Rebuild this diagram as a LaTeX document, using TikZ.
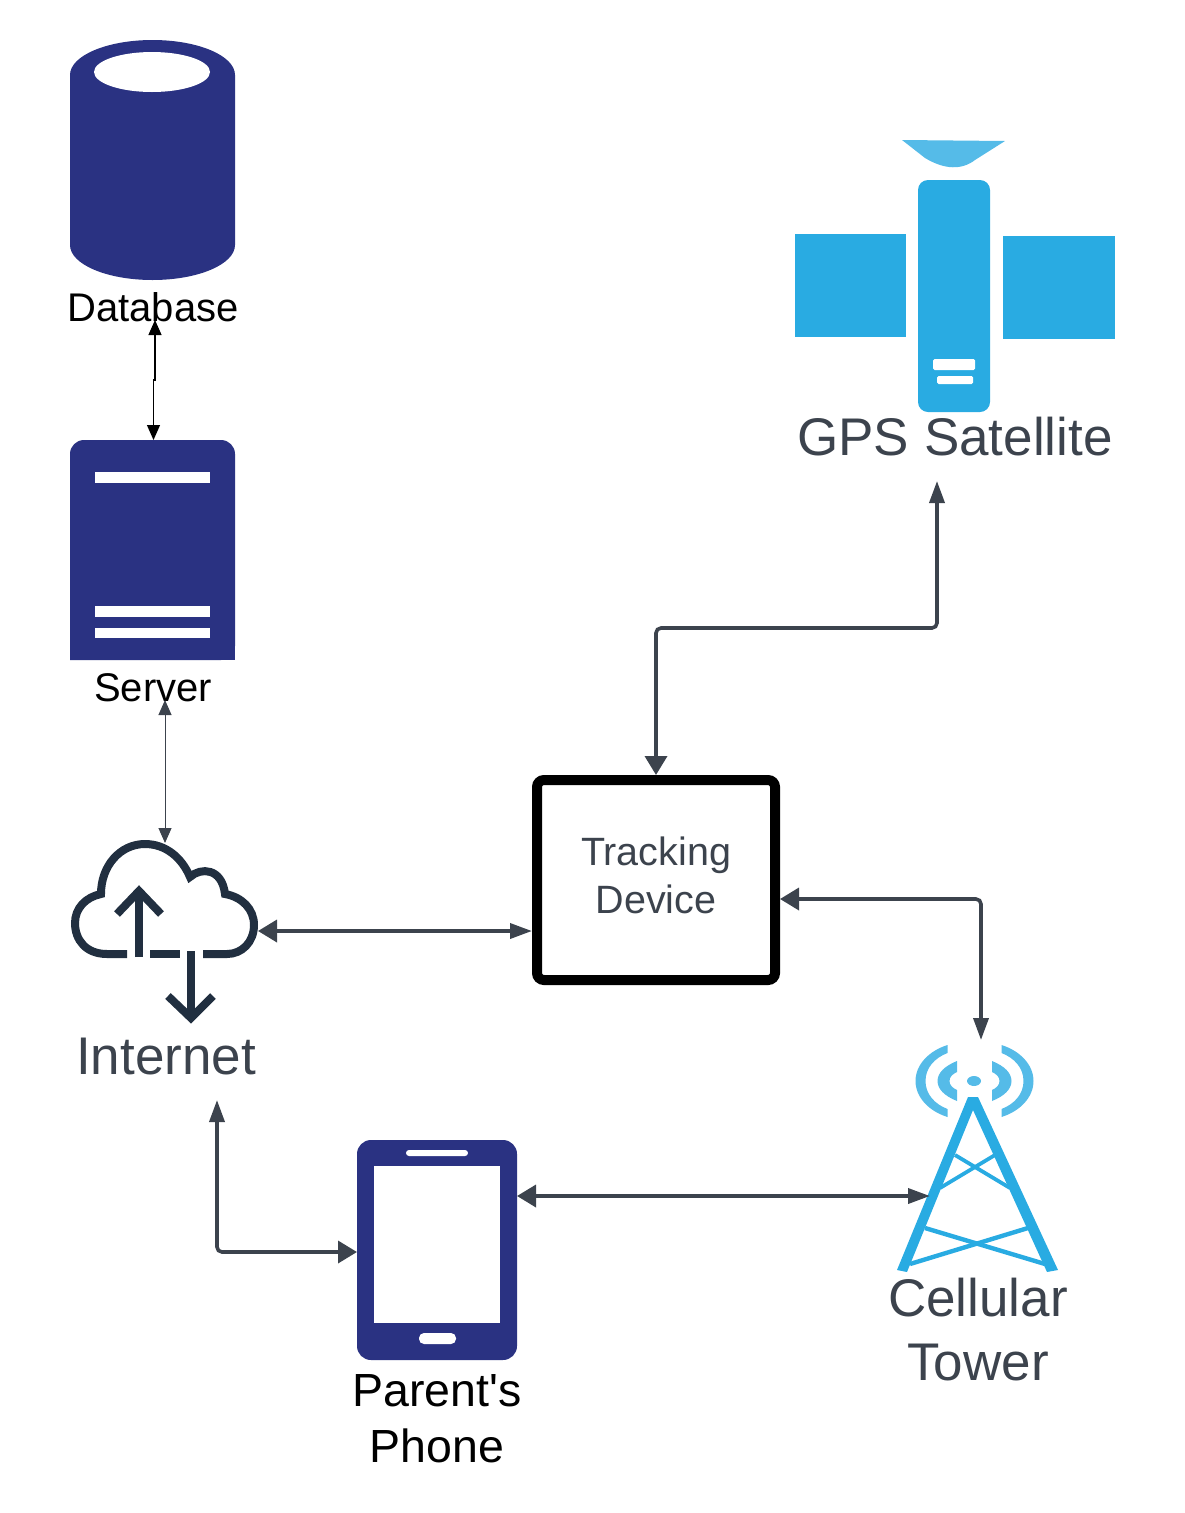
\documentclass[tikz,border=0pt]{standalone}
\usepackage{fontspec}
\setmainfont{Liberation Sans}
\newfontfamily\plainfont{Liberation Sans}
\usetikzlibrary{arrows.meta}
\definecolor{navy}{HTML}{2A3282}
\definecolor{skyblue}{HTML}{29ABE2}
\definecolor{paleblue}{HTML}{55BBE8}
\definecolor{cloudink}{HTML}{212F40}
\definecolor{slate}{HTML}{3C434D}
\tikzset{
  widehead/.tip = {Triangle[length = 19pt, width = 22pt]},
  slimhead/.tip = {Triangle[length = 22pt, width = 15pt]},
  smallhead/.tip = {Triangle[length = 15pt, width = 13pt]},
  blacklabel/.style = {text = black, inner sep = 0pt, font = \fontsize{40}{46}\selectfont},
  biglabel/.style = {text = slate, inner sep = 0pt, align = center},
  link/.style = {widehead-slimhead, draw = slate, line width = 3.6pt, rounded corners = 5pt},
  revlink/.style = {slimhead-widehead, draw = slate, line width = 3.6pt, rounded corners = 5pt},
  thinlink/.style = {smallhead-smallhead, draw = slate, line width = 1pt},
  dblink/.style = {smallhead-smallhead, draw = black, line width = 1.2pt},
  cloudline/.style = {draw = cloudink, line width = 8pt},
}
\begin{document}
\begin{tikzpicture}[x = 1pt, y = -1pt]
  \useasboundingbox (0,0) rectangle (1185,1513);
  % database
  \fill[navy] (70,75) arc[start angle = 180, end angle = 0, x radius = 82.5, y radius = -35]
    -- (235,245) arc[start angle = 0, end angle = -180, x radius = 82.5, y radius = -35] -- cycle;
  \fill[white] (152,72) ellipse[x radius = 58, y radius = 20];
  \node (dblabel) [blacklabel] at (153,307) {Database};
  % server
  \fill[navy, rounded corners = 14pt] (70,660) -- (70,440) -- (235,440) -- (235,660) [sharp corners] -- cycle;
  \fill[navy] (70,620) rectangle (235,660);
  \fill[white] (95,472) rectangle (210,483);
  \fill[white] (95,606) rectangle (210,617);
  \fill[white] (95,628) rectangle (210,638);
  \coordinate (servertop) at (153.5,440);
  \node (serverlabel) [blacklabel] at (153,688) {Server};
  % internet cloud
  \draw[cloudline] (127,954) -- (107,954) .. controls (86,954) and (75,940) .. (75,923)
    .. controls (75,908) and (86,897) .. (101,894)
    .. controls (101,866) and (120,844) .. (145,844)
    .. controls (166,844) and (182,858) .. (190,877)
    .. controls (201,867) and (222,868) .. (225,894)
    .. controls (242,897) and (254,909) .. (254,925)
    .. controls (254,942) and (242,954) .. (227,954) -- (203,954);
  \draw[cloudline] (150,954) -- (180,954);
  \draw[cloudline] (139,957) -- (139,892);
  \draw[cloudline, line join = miter] (117,914) -- (139,891) -- (161,914);
  \draw[cloudline] (191,951) -- (191,1015);
  \draw[cloudline] (168,996) -- (191,1018) -- (213,996);
  \coordinate (cloudtop) at (165,843);
  \coordinate (cloudright) at (258,931);
  \node (internetlabel) [biglabel, font = \fontsize{53}{60}\selectfont] at (166,1057) {Internet};
  % tracking device
  \node (tracking) [draw = black, line width = 10pt, rounded corners = 7pt,
    minimum width = 238pt, minimum height = 200pt] at (656,880) {};
  \node (trackinglabel) [biglabel, font = \fontsize{39.5}{48}\selectfont] at (656,875) {Tracking\\Device};
  \coordinate (trackleft) at (532,931);
  \coordinate (trackright) at (780,899);
  % satellite
  \fill[paleblue] (902,140) -- (1005,141) -- (975,160) .. controls (962,170) and (945,170) .. (925,158) -- cycle;
  \fill[skyblue, rounded corners = 10pt] (918,180) rectangle (990,412);
  \fill[skyblue] (794.5,233.5) rectangle (906,337);
  \fill[skyblue] (1003,235.5) rectangle (1114.5,339);
  \fill[white, rounded corners = 1.5pt] (933,359) rectangle (975,370);
  \fill[white, rounded corners = 1.5pt] (937,376) rectangle (973,384);
  \node (gpslabel) [biglabel, font = \fontsize{53}{60}\selectfont] at (955,436.5) {GPS Satellite};
  \coordinate (gpsend) at (937,481);
  % cellular tower
  \fill[paleblue] (974,1081) ellipse[x radius = 7, y radius = 5];
  \foreach \side in {1,-1} {
    \begin{scope}[shift = {(974.5,0)}, xscale = \side]
      \fill[paleblue] (-17.5,1061) .. controls (-30,1066) and (-37,1073) .. (-37,1081)
        .. controls (-37,1089) and (-30,1096) .. (-17.5,1101) -- (-17.5,1090)
        .. controls (-22,1088) and (-25,1085) .. (-25,1081)
        .. controls (-25,1077) and (-22,1074) .. (-17.5,1072) -- cycle;
      \fill[paleblue] (-27,1045) .. controls (-46,1051) and (-59,1065) .. (-59,1081)
        .. controls (-59,1097) and (-46,1111) .. (-27,1117) -- (-27,1109)
        .. controls (-40,1104) and (-49,1094) .. (-49,1081)
        .. controls (-49,1068) and (-40,1058) .. (-27,1053) -- cycle;
    \end{scope}
  }
  \fill[skyblue] (968,1097) -- (978,1097) -- (1058,1270) -- (1047,1272) -- (973,1110)
    -- (907,1272) -- (897,1270) -- cycle;
  \draw[skyblue, line width = 3.8pt] (955,1155) -- (1010,1188);
  \draw[skyblue, line width = 3.8pt] (995,1155) -- (940,1188);
  \draw[skyblue, line width = 4.4pt] (925,1228) -- (1045,1264);
  \draw[skyblue, line width = 4.4pt] (1028,1228) -- (910,1264);
  \coordinate (towertop) at (981,1040);
  \coordinate (towerleft) at (930,1196);
  \node (towerlabel) [biglabel, font = \fontsize{53}{64}\selectfont] at (978,1329.5) {Cellular\\Tower};
  % phone
  \node (phone) [fill = navy, rounded corners = 14pt, minimum width = 160pt, minimum height = 220pt] at (437,1250) {};
  \fill[white] (374,1166) rectangle (500,1323);
  \fill[white, rounded corners = 3pt] (406,1150) rectangle (468,1156);
  \fill[white, rounded corners = 5pt] (419,1333) rectangle (456,1344);
  \coordinate (phoneright) at (517,1196);
  \coordinate (phoneleft) at (357,1252);
  \node (phonelabel) [text = black, inner sep = 0pt, align = center, font = \plainfont\fontsize{46.5}{56}\selectfont] at (437,1419) {Parent's\\Phone};
  \coordinate (internetend) at (217,1100);
  % connectors
  \draw[dblink] (155,320) -- (155,380) -- (153.5,380) -- (servertop);
  \draw[thinlink] (165,700) -- (cloudtop);
  \draw[link] (cloudright) -- (trackleft);
  \draw[revlink] (gpsend) |- (656,628) -- (tracking.north);
  \draw[link] (trackright) -| (towertop);
  \draw[revlink] (internetend) |- (phoneleft);
  \draw[link] (phoneright) -- (towerleft);
\end{tikzpicture}
\end{document}
